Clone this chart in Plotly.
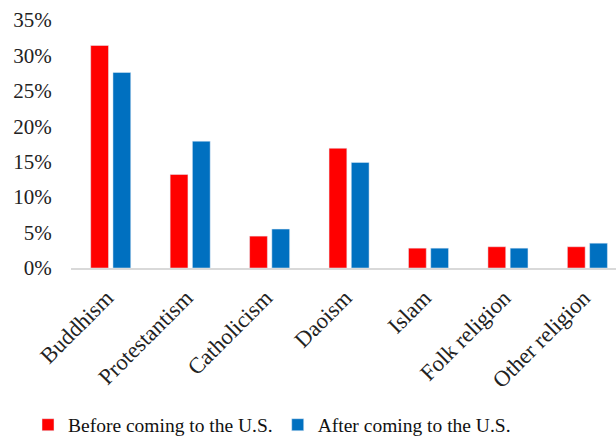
import plotly.graph_objects as go

categories = ["Buddhism", "Protestantism", "Catholicism", "Daoism", "Islam", "Folk religion", "Other religion"]
before_us = [31.4, 13.2, 4.5, 16.9, 2.8, 3.0, 3.0]
after_us = [27.6, 17.9, 5.5, 14.9, 2.8, 2.8, 3.5]
series_names = ["Before coming to the U.S.", "After coming to the U.S."]
y_ticks = [0, 5, 10, 15, 20, 25, 30, 35]
y_tick_labels = ["0%", "5%", "10%", "15%", "20%", "25%", "30%", "35%"]

fig = go.Figure()
fig.add_trace(go.Bar(x=categories, y=before_us, name=series_names[0], marker_color="#FF0000"))
fig.add_trace(go.Bar(x=categories, y=after_us, name=series_names[1], marker_color="#0070C0"))

fig.update_layout(
    width=616, height=440,
    margin=dict(l=71, r=0, t=19.5, b=171.5),
    plot_bgcolor="white", paper_bgcolor="white",
    barmode="group", bargap=0.44, bargroupgap=0.2,
    font=dict(family="Liberation Serif", size=19, color="#222222"),
    showlegend=True,
    legend=dict(orientation="h", x=28 / 616, xanchor="left", xref="container",
                y=0.034, yanchor="middle", yref="container",
                font=dict(family="Liberation Serif", size=19.5, color="#111111"),
                itemwidth=30, tracegroupgap=0),
)
fig.update_xaxes(range=[-0.5, 6.36], tickangle=-45, showline=True, linecolor="#D9D9D9",
                 linewidth=1.5, ticks="", showgrid=False, ticklabelstandoff=6,
                 ticklabelshift=-4,
                 tickfont=dict(family="Liberation Serif", size=22.5, color="#222222"))
fig.update_yaxes(range=[0, 35], tickmode="array", tickvals=y_ticks, ticktext=y_tick_labels,
                 showgrid=False, zeroline=False, showline=False,
                 ticks="outside", ticklen=14, tickcolor="white",
                 tickfont=dict(family="Liberation Serif", size=21, color="#222222"))

fig.write_html("out.html")
